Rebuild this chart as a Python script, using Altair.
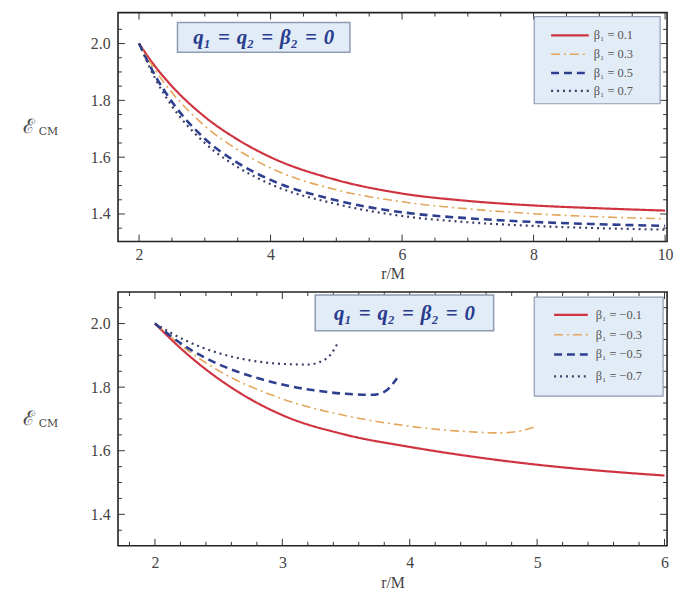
import altair as alt
import pandas as pd

SERIF = "Liberation Serif"
TXT = "#444444"
TICK = "#333333"

# ---------------- top panel : beta1 > 0 ----------------
top_labels = ["β₁ = 0.1", "β₁ = 0.3", "β₁ = 0.5", "β₁ = 0.7"]
top_r = [2.0, 2.25, 2.5, 3.0, 3.5, 4.0, 5.0, 6.0, 7.0, 8.0, 9.0, 10.0]
top_e1 = [2.0, 1.918, 1.850, 1.742, 1.662, 1.600, 1.520, 1.472, 1.446, 1.430, 1.420, 1.412]
top_e3 = [2.0, 1.905, 1.828, 1.710, 1.626, 1.562, 1.485, 1.443, 1.418, 1.401, 1.390, 1.383]
top_e5 = [2.0, 1.885, 1.795, 1.665, 1.580, 1.520, 1.448, 1.406, 1.385, 1.372, 1.364, 1.358]
top_e7 = [2.0, 1.875, 1.780, 1.650, 1.565, 1.505, 1.435, 1.393, 1.371, 1.358, 1.350, 1.345]
top_x_ticks = [2, 4, 6, 8, 10]
top_x_minor = [2.5, 3, 3.5, 4.5, 5, 5.5, 6.5, 7, 7.5, 8.5, 9, 9.5]
top_y_ticks = [1.4, 1.6, 1.8, 2.0]

# ---------------- bottom panel : beta1 < 0 ----------------
bot_labels = ["β₁ = −0.1", "β₁ = −0.3", "β₁ = −0.5", "β₁ = −0.7"]
bot_r1 = [2.0, 2.25, 2.5, 2.75, 3.0, 3.5, 4.0, 4.5, 5.0, 5.5, 6.0]
bot_e1 = [2.0, 1.905, 1.826, 1.762, 1.712, 1.650, 1.612, 1.581, 1.556, 1.537, 1.522]
bot_r3 = [2.0, 2.25, 2.5, 3.0, 3.5, 4.0, 4.25, 4.5, 4.7, 4.85, 5.0]
bot_e3 = [2.0, 1.918, 1.852, 1.763, 1.710, 1.677, 1.666, 1.659, 1.656, 1.661, 1.678]
bot_r5 = [2.0, 2.25, 2.5, 2.75, 3.0, 3.25, 3.5, 3.7, 3.8, 3.9]
bot_e5 = [2.0, 1.925, 1.872, 1.835, 1.808, 1.790, 1.779, 1.776, 1.785, 1.828]
bot_r7 = [2.0, 2.25, 2.5, 2.75, 3.0, 3.2, 3.3, 3.38, 3.43]
bot_e7 = [2.0, 1.945, 1.907, 1.884, 1.873, 1.871, 1.880, 1.903, 1.935]
bot_x_ticks = [2, 3, 4, 5, 6]
bot_x_minor = [1.8, 2.2, 2.4, 2.6, 2.8, 3.2, 3.4, 3.6, 3.8, 4.2, 4.4, 4.6, 4.8, 5.2, 5.4, 5.6, 5.8]
bot_y_ticks = [1.4, 1.6, 1.8, 2.0]

y_minor = [1.35, 1.45, 1.5, 1.55, 1.65, 1.7, 1.75, 1.85, 1.9, 1.95, 2.05]

# styles (colour, width, dash)
STYLES = [
    ("#cf3340", 2.2, [1, 0]),
    ("#e3a65c", 1.6, [9, 4, 2, 4]),
    ("#2f3f8f", 2.6, [8, 5]),
    ("#3a4068", 2.2, [2, 4]),
]
BOX_FILL = "#e2ecf7"
BOX_STROKE = "#8e9bb0"
TITLE_COL = "#2a3c8e"
SP = "\u2004"
TITLE = f"q₁{SP}={SP}q₂{SP}={SP}β₂{SP}={SP}0"


def panel(series, labels, xdom, ydom, W, H, xmaj, xmin, ymaj, xfmt,
          lab_pad, title_pad, leg, box, title):
    xs = alt.Scale(domain=xdom, nice=False, zero=False)
    ys = alt.Scale(domain=ydom, nice=False, zero=False)
    X = alt.X("r:Q", scale=xs, axis=alt.Axis(
        values=xmaj, format=xfmt, title="r/M", ticks=False, domain=False, grid=False,
        labelFlush=False, labelFont=SERIF, labelFontSize=16, labelColor=TXT,
        labelPadding=lab_pad, titleFont=SERIF, titleFontSize=16,
        titleFontWeight="normal", titleColor=TXT, titlePadding=title_pad))
    Y = alt.Y("E:Q", scale=ys, axis=alt.Axis(
        values=ymaj, format=".1f", title=None, ticks=False, domain=False, grid=False,
        labelFont=SERIF, labelFontSize=16, labelColor=TXT, labelPadding=8))

    layers = []
    for (r, e), (col, sw, dash) in zip(series, STYLES):
        df = pd.DataFrame({"r": r, "E": e})
        layers.append(alt.Chart(df).mark_line(
            interpolate="monotone", color=col, strokeWidth=sw, strokeDash=dash,
            clip=True).encode(x=X, y=Y))

    # frame ticks (inward) on all four sides
    xmin_in = [v for v in xmin if xdom[0] < v < xdom[1]]
    ymin_in = [v for v in y_minor if ydom[0] < v < ydom[1]]
    for vals, ln in ((xmaj, 7), (xmin_in, 4)):
        d = pd.DataFrame({"r": vals})
        layers.append(alt.Chart(d).mark_rule(color=TICK, strokeWidth=1).encode(
            x=X, y=alt.value(H), y2=alt.value(H - ln)))
        layers.append(alt.Chart(d).mark_rule(color=TICK, strokeWidth=1).encode(
            x=X, y=alt.value(0), y2=alt.value(ln)))
    for vals, ln in ((ymaj, 7), (ymin_in, 4)):
        d = pd.DataFrame({"E": vals})
        layers.append(alt.Chart(d).mark_rule(color=TICK, strokeWidth=1).encode(
            y=Y, x=alt.value(0), x2=alt.value(ln)))
        layers.append(alt.Chart(d).mark_rule(color=TICK, strokeWidth=1).encode(
            y=Y, x=alt.value(W), x2=alt.value(W - ln)))

    one = pd.DataFrame({"a": [0]})
    # y title  (script E with CM subscript)
    layers.append(alt.Chart(one).mark_text(
        text="ℰ", font="DejaVu Serif", fontSize=20, color=TXT, align="left",
        baseline="middle").encode(x=alt.value(-96), y=alt.value(H / 2)))
    layers.append(alt.Chart(one).mark_text(
        text="CM", font="DejaVu Serif", fontSize=11, color=TXT, align="left",
        baseline="middle").encode(x=alt.value(-80), y=alt.value(H / 2 + 5)))

    # framed title box
    bx0, bx1, by0, by1 = box
    layers.append(alt.Chart(one).mark_rect(
        fill=BOX_FILL, stroke=BOX_STROKE, strokeWidth=1.5).encode(
        x=alt.value(bx0), x2=alt.value(bx1), y=alt.value(by0), y2=alt.value(by1)))
    layers.append(alt.Chart(one).mark_text(
        text=title, font=SERIF, fontSize=21, fontStyle="italic", fontWeight="bold",
        color=TITLE_COL, align="center", baseline="middle").encode(
        x=alt.value((bx0 + bx1) / 2), y=alt.value((by0 + by1) / 2 + 1)))

    # legend
    lx0, lx1, ly0, ly1, rows, sx0, sx1, tx = leg
    layers.append(alt.Chart(one).mark_rect(
        fill=BOX_FILL, stroke=BOX_STROKE, strokeWidth=1.2).encode(
        x=alt.value(lx0), x2=alt.value(lx1), y=alt.value(ly0), y2=alt.value(ly1)))
    for lab, ry, (col, sw, dash) in zip(labels, rows, STYLES):
        layers.append(alt.Chart(one).mark_rule(
            color=col, strokeWidth=sw, strokeDash=dash).encode(
            x=alt.value(sx0), x2=alt.value(sx1), y=alt.value(ry)))
        layers.append(alt.Chart(one).mark_text(
            text=lab, font=SERIF, fontSize=12.5, color="#555", align="left",
            baseline="middle").encode(x=alt.value(tx), y=alt.value(ry)))

    return alt.layer(*layers).properties(width=W, height=H)


W = 554
top = panel(
    [(top_r, top_e1), (top_r, top_e3), (top_r, top_e5), (top_r, top_e7)],
    top_labels, [1.68, 10.03], [1.303, 2.109], W, 231,
    top_x_ticks, top_x_minor, top_y_ticks, "d", 5, 3,
    (420, 547, 4, 92, [23, 42, 61, 79], 437, 475, 480),
    (60, 234, 10, 40), TITLE)

bottom = panel(
    [(bot_r1, bot_e1), (bot_r3, bot_e3), (bot_r5, bot_e5), (bot_r7, bot_e7)],
    bot_labels, [1.71, 6.02], [1.301, 2.099], W, 256,
    bot_x_ticks, bot_x_minor, bot_y_ticks, "d", 9, 4,
    (420, 550, 5, 105, [23, 43, 63, 85], 440, 474, 482),
    (199, 379, 3, 39), TITLE)

chart = alt.vconcat(top, bottom, spacing=51, bounds="flush").resolve_scale(
    x="independent", y="independent"
).properties(
    padding={"left": 14, "top": 0, "right": 0, "bottom": 0}
).configure(background="white").configure_view(stroke="#222222", strokeWidth=1.6)

chart.save("out.html", embed_options={"renderer": "svg", "actions": False})
